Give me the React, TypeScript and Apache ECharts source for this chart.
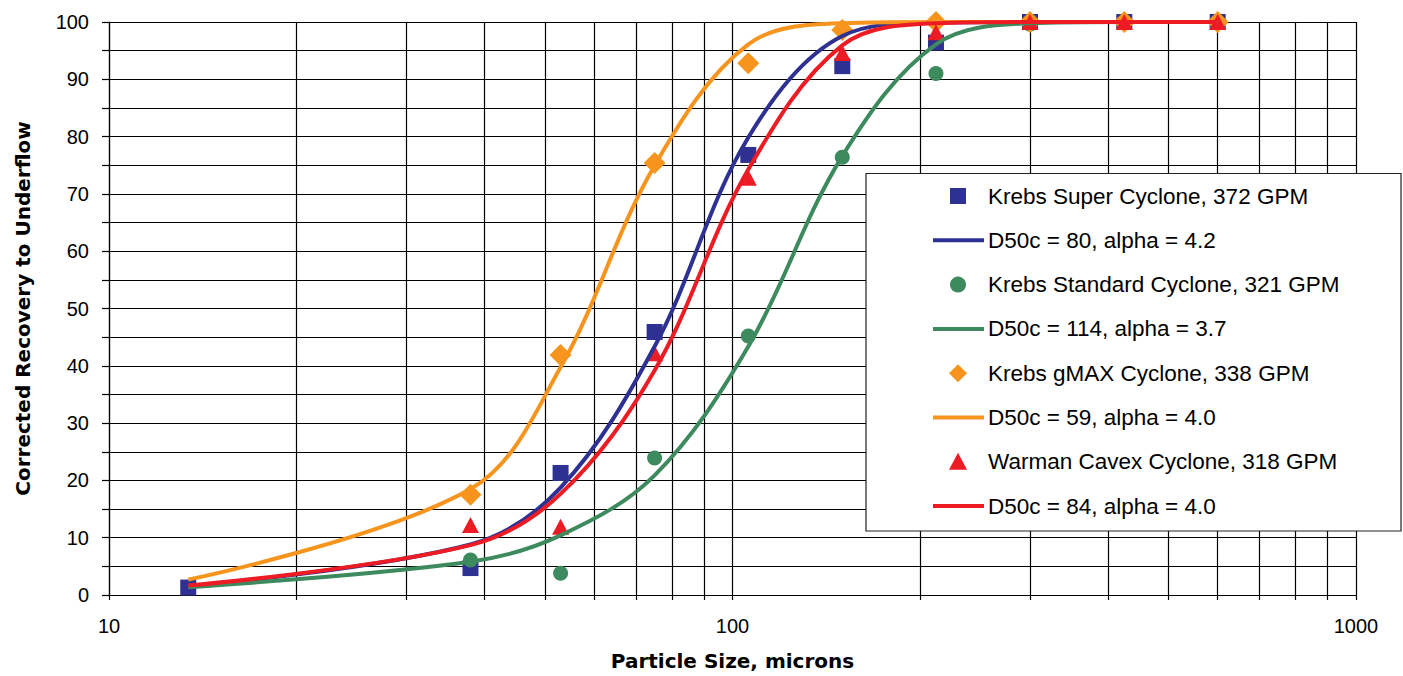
import React, { useEffect, useRef } from 'react';
import * as echarts from 'echarts';

// Sieve sizes (microns) where samples and model fits are evaluated
const sieveSizes = [13.4, 38, 53, 75, 106, 150, 212, 300, 425, 600];

// Measured corrected recovery to underflow (%)
const superMeasured = [1.3, 4.7, 21.3, 45.9, 76.8, 92.3, 96.4, 100, 100, 100];
const standardMeasured = [null, 6.1, 3.8, 23.9, 45.2, 76.4, 91.0, 99.6, 100, 100];
const gmaxMeasured = [null, 17.5, 41.9, 75.4, 92.8, 98.6, 100, 100, 100, 100];
const cavexMeasured = [null, 12.2, 11.9, 42.2, 72.8, 94.6, 98.2, 100, 100, 100];

// Fitted curves (%), read at the same sizes
const superFit = [1.53, 8.82, 18.75, 43.36, 79.84, 97.56, 99.9, 100, 100, 100];
const standardFit = [1.36, 5.81, 10.41, 20.88, 43.36, 76.6, 96.1, 99.77, 100, 100];
const gmaxFit = [2.69, 18.48, 39.74, 74.97, 96.1, 99.8, 100, 100, 100, 100];
const cavexFit = [1.64, 8.7, 17.64, 39.2, 74.26, 95.93, 99.78, 100, 100, 100];

const seriesNames = [
  'Krebs Super Cyclone, 372 GPM',
  'D50c = 80, alpha = 4.2',
  'Krebs Standard Cyclone, 321 GPM',
  'D50c = 114, alpha = 3.7',
  'Krebs gMAX Cyclone, 338 GPM',
  'D50c = 59, alpha = 4.0',
  'Warman Cavex Cyclone, 318 GPM',
  'D50c = 84, alpha = 4.0',
];

const xLabelValues = [10, 100, 1000];
const xGridValues = [
  10, 20, 30, 40, 50, 60, 70, 80, 90,
  100, 200, 300, 400, 500, 600, 700, 800, 900, 1000,
];

const BLUE = '#2E3192';
const GREEN = '#3D8A5E';
const ORANGE = '#F7941D';
const RED = '#ED1C24';
const FONT = '"Liberation Sans", Arial, sans-serif';
const TITLE_FONT = '"DejaVu Sans", sans-serif';

const pairs = (vals: (number | null)[]) =>
  sieveSizes
    .map((x, i) => [x, vals[i]])
    .filter((p) => p[1] !== null) as number[][];

export default function App() {
  const ref = useRef<HTMLDivElement>(null);

  useEffect(() => {
    document.body.style.margin = '0';
    document.body.style.overflow = 'hidden';
    if (!ref.current) return;
    const chart = echarts.init(ref.current, null, { renderer: 'svg' });

    const scatter = (name: string, vals: (number | null)[], color: string, symbol: string, size: any) => ({
      name,
      type: 'scatter',
      data: pairs(vals),
      symbol,
      symbolSize: size,
      itemStyle: { color, opacity: 1 },
      emphasis: { disabled: true },
      clip: false,
    });
    const fit = (name: string, vals: number[], color: string) => ({
      name,
      type: 'line',
      data: pairs(vals),
      smooth: 0.35,
      showSymbol: false,
      symbol: 'none',
      lineStyle: { color, width: 4 },
      itemStyle: { color },
      emphasis: { disabled: true },
    });

    // Legend drawn as graphic (box with marker / line samples)
    const LX = 866;
    const LY = 173.5;
    const LW = 535;
    const LH = 357.5;
    const ROW0 = 196;
    const STEP = 44.3;
    const MX = 958;
    const rowY = (i: number) => ROW0 + STEP * i;
    const legendGraphics: any[] = [
      {
        type: 'rect',
        z: 100,
        shape: { x: LX, y: LY, width: LW, height: LH },
        style: { fill: '#fff', stroke: '#222', lineWidth: 1.2 },
      },
      {
        type: 'rect',
        z: 101,
        shape: { x: MX - 8, y: rowY(0) - 8, width: 16, height: 16 },
        style: { fill: BLUE },
      },
      {
        type: 'circle',
        z: 101,
        shape: { cx: MX, cy: rowY(2), r: 8 },
        style: { fill: GREEN },
      },
      {
        type: 'polygon',
        z: 101,
        shape: {
          points: [
            [MX, rowY(4) - 9],
            [MX + 9, rowY(4)],
            [MX, rowY(4) + 9],
            [MX - 9, rowY(4)],
          ],
        },
        style: { fill: ORANGE },
      },
      {
        type: 'polygon',
        z: 101,
        shape: {
          points: [
            [MX, rowY(6) - 9],
            [MX + 9, rowY(6) + 8],
            [MX - 9, rowY(6) + 8],
          ],
        },
        style: { fill: RED },
      },
    ];
    [BLUE, GREEN, ORANGE, RED].forEach((c, k) => {
      const y = rowY(2 * k + 1);
      legendGraphics.push({
        type: 'line',
        z: 101,
        shape: { x1: 933, y1: y, x2: 984, y2: y },
        style: { stroke: c, lineWidth: 4 },
      });
    });
    seriesNames.forEach((t, i) => {
      legendGraphics.push({
        type: 'text',
        z: 101,
        x: 988,
        y: rowY(i),
        style: {
          text: t,
          fill: '#000',
          fontSize: 22.5,
          fontFamily: FONT,
          verticalAlign: 'middle',
          align: 'left',
        },
      });
    });

    const option: any = {
      animation: false,
      backgroundColor: '#fff',
      grid: { left: 109, right: 47, top: 22, bottom: 81, containLabel: false },
      xAxis: {
        type: 'log',
        logBase: 10,
        min: 10,
        max: 1000,
        name: 'Particle Size, microns',
        nameLocation: 'middle',
        nameGap: 56,
        nameTextStyle: { fontFamily: TITLE_FONT, fontWeight: 'bold', fontSize: 20, color: '#000' },
        axisLine: { show: true, onZero: false, lineStyle: { color: '#000', width: 1.2 } },
        axisTick: { show: true, length: 5, customValues: xGridValues, lineStyle: { color: '#000', width: 1.2 } },
        minorTick: { show: false },
        axisLabel: {
          customValues: xLabelValues,
          margin: 21,
          fontSize: 20,
          fontFamily: FONT,
          color: '#000',
          formatter: (v: number) => String(Math.round(v)),
        },
        splitLine: { show: true, lineStyle: { color: '#000', width: 1.2 } },
      },
      yAxis: {
        type: 'value',
        min: 0,
        max: 100,
        interval: 5,
        name: 'Corrected Recovery to Underflow',
        nameLocation: 'middle',
        nameGap: 76,
        nameTextStyle: { fontFamily: TITLE_FONT, fontWeight: 'bold', fontSize: 20, color: '#000' },
        axisLine: { show: true, lineStyle: { color: '#000', width: 1.2 } },
        axisTick: { show: true, length: 7, lineStyle: { color: '#000', width: 1.2 } },
        axisLabel: {
          margin: 20,
          fontSize: 20,
          fontFamily: FONT,
          color: '#000',
          formatter: (v: number) => (v % 10 === 0 ? String(v) : ''),
        },
        splitLine: { show: true, lineStyle: { color: '#000', width: 1.2 } },
      },
      tooltip: { show: false },
      series: [
        scatter(seriesNames[0], superMeasured, BLUE, 'rect', 16),
        fit(seriesNames[1], superFit, BLUE),
        scatter(seriesNames[2], standardMeasured, GREEN, 'circle', 15),
        fit(seriesNames[3], standardFit, GREEN),
        scatter(seriesNames[4], gmaxMeasured, ORANGE, 'diamond', 22),
        fit(seriesNames[5], gmaxFit, ORANGE),
        scatter(seriesNames[6], cavexMeasured, RED, 'triangle', [17, 16]),
        fit(seriesNames[7], cavexFit, RED),
      ],
      graphic: legendGraphics,
    };

    chart.setOption(option);
    return () => chart.dispose();
  }, []);

  return <div ref={ref} style={{ width: 1403, height: 676, background: '#fff' }} />;
}
